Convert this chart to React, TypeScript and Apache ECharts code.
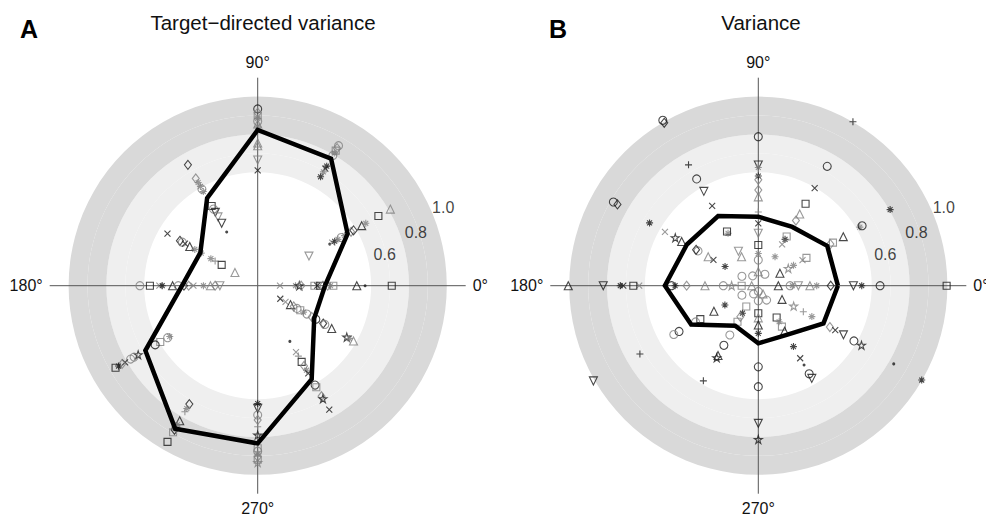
import React, { useEffect, useRef } from 'react';
import * as echarts from 'echarts';

// ---- data ----
const ANGLES = [0, 30, 60, 90, 120, 150, 180, 210, 240, 270, 300, 330];
const MEAN_A = [0.356, 0.549, 0.776, 0.824, 0.535, 0.35, 0.4, 0.686, 0.873, 0.834, 0.571, 0.345];
const MEAN_B = [0.421, 0.421, 0.359, 0.365, 0.425, 0.436, 0.494, 0.41, 0.245, 0.305, 0.3, 0.398];
const RING_TICKS = [1.0, 0.8, 0.6];
const ANGLE_TICK_LABELS = ['0°', '90°', '180°', '270°'];
const TITLE_A = 'Target\u2212directed variance';
const TITLE_B = 'Variance';
const PANEL_LETTERS = ['A', 'B'];

// [angle, radius, symbol, tone]  tone: k = black, g = gray
type Pt = [number, number, string, string];
const POINTS_A: Pt[] = [
  [90, 0.935, 'o', 'k'], [90, 0.915, 'd', 'g'], [90, 0.9, 's', 'g'], [90, 0.885, '*', 'g'], [90, 0.87, 'o', 'g'], [90, 0.855, '^', 'g'], [90, 0.84, '*', 'g'], [90, 0.755, '^', 'g'], [90, 0.74, '^', 'g'], [90, 0.665, 'v', 'g'], [90, 0.61, 'x', 'k'],
  [60, 0.855, 'o', 'g'], [60, 0.84, 'd', 'g'], [60, 0.825, 's', 'g'], [60, 0.81, '*', 'g'], [60, 0.795, 'o', 'g'], [60, 0.73, '*', 'k'], [60, 0.715, 'x', 'k'], [60, 0.695, '*', 'g'], [60, 0.665, '*', 'k'],
  [30, 0.313, 'v', 'g'], [30, 0.44, '.', 'k'], [30, 0.455, 'x', 'g'], [30, 0.47, '*', 'k'], [30, 0.49, '*', 'g'], [30, 0.51, 'o', 'g'], [30, 0.53, '*', 'g'], [30, 0.57, 'd', 'g'], [30, 0.585, 'd', 'k'], [30, 0.635, '^', 'k'], [30, 0.66, '*', 'g'], [30, 0.737, 's', 'k'], [30, 0.81, '^', 'g'],
  [0, 0.118, 'x', 'g'], [0, 0.2, '*', 'g'], [0, 0.22, 'p', 'k'], [0, 0.23, 'd', 'g'], [0, 0.3, 's', 'g'], [0, 0.315, 'x', 'k'], [0, 0.33, 's', 'k'], [0, 0.345, 'd', 'g'], [0, 0.37, 'd', 'g'], [0, 0.385, '*', 'g'], [0, 0.4, 's', 'g'], [0, 0.524, '^', 'k'], [0, 0.568, '.', 'k'], [0, 0.709, 's', 'k'],
  [330, 0.138, 'x', 'k'], [330, 0.17, 'x', 'g'], [330, 0.2, '^', 'k'], [330, 0.22, 'd', 'g'], [330, 0.24, 'o', 'g'], [330, 0.26, 's', 'g'], [330, 0.28, '*', 'g'], [330, 0.3, 'o', 'g'], [330, 0.33, 'd', 'g'], [330, 0.355, 'o', 'k'], [330, 0.4, 'd', 'k'], [330, 0.41, 'o', 'g'], [330, 0.452, '^', 'k'], [330, 0.544, 'p', 'k'], [330, 0.56, '*', 'g'], [330, 0.585, '^', 'g'],
  [300, 0.34, '.', 'k'], [300, 0.405, 'x', 'g'], [300, 0.43, '+', 'g'], [300, 0.465, 's', 'k'], [300, 0.49, 'd', 'g'], [300, 0.516, '*', 'g'], [300, 0.535, 'x', 'k'], [300, 0.607, 'o', 'k'], [300, 0.62, 's', 'g'], [300, 0.675, 'd', 'g'], [300, 0.69, 'p', 'k'], [300, 0.757, 'x', 'k'],
  [270, 0.623, '*', 'k'], [270, 0.649, 'v', 'k'], [270, 0.684, 'o', 'g'], [270, 0.71, 'd', 'g'], [270, 0.746, '+', 'g'], [270, 0.79, 'p', 'k'], [270, 0.86, 's', 'g'], [270, 0.875, 'o', 'g'], [270, 0.89, '*', 'g'], [270, 0.905, 'd', 'g'], [270, 0.92, 's', 'g'], [270, 0.935, 'p', 'g'],
  [240, 0.723, 'd', 'k'], [240, 0.75, '*', 'g'], [240, 0.77, '+', 'g'], [240, 0.825, '^', 'k'], [240, 0.85, '*', 'g'], [240, 0.865, 'o', 'g'], [240, 0.88, 'd', 'k'], [240, 0.895, 's', 'g'], [240, 0.954, 's', 'k'],
  [210, 0.537, '*', 'g'], [210, 0.55, 'o', 'g'], [210, 0.595, 's', 'g'], [210, 0.626, 'o', 'k'], [210, 0.73, 'p', 'k'], [210, 0.755, 'o', 'g'], [210, 0.776, 'o', 'g'], [210, 0.81, 'x', 'k'], [210, 0.828, 'd', 'g'], [210, 0.85, '*', 'k'], [210, 0.868, 's', 'k'],
  [180, 0.623, 'o', 'g'], [180, 0.57, 's', 'k'], [180, 0.52, 'x', 'g'], [180, 0.505, '*', 'k'], [180, 0.45, '^', 'k'], [180, 0.42, 'o', 'g'], [180, 0.39, 'd', 'k'], [180, 0.365, 'd', 'g'], [180, 0.34, 'x', 'g'], [180, 0.287, '*', 'g'], [180, 0.25, '^', 'g'], [180, 0.225, 'd', 'g'], [180, 0.2, 'v', 'g'],
  [150, 0.551, 'x', 'k'], [150, 0.475, 'd', 'k'], [150, 0.46, 'o', 'g'], [150, 0.444, 'x', 'k'], [150, 0.415, '^', 'k'], [150, 0.384, '*', 'g'], [150, 0.345, '*', 'g'], [150, 0.286, '*', 'g'], [150, 0.26, '+', 'g'], [150, 0.22, 's', 'k'], [150, 0.139, '^', 'g'],
  [120, 0.738, 'd', 'k'], [120, 0.655, 'd', 'g'], [120, 0.63, '*', 'g'], [120, 0.606, '*', 'g'], [120, 0.59, 'o', 'g'], [120, 0.575, '*', 'g'], [120, 0.487, 's', 'k'], [120, 0.468, 'o', 'g'], [120, 0.448, 'v', 'k'], [120, 0.42, 'v', 'g'], [120, 0.381, 'v', 'k'], [120, 0.328, '.', 'k'],
];
const POINTS_B: Pt[] = [
  [90, 0.788, 'o', 'k'], [90, 0.638, 'v', 'k'], [90, 0.625, '*', 'g'], [90, 0.58, '*', 'k'], [90, 0.56, 'd', 'g'], [90, 0.506, 'd', 'g'], [90, 0.47, '^', 'g'], [90, 0.39, '+', 'g'], [90, 0.33, 'x', 'k'], [90, 0.277, 'v', 'g'], [90, 0.215, 's', 'k'], [90, 0.17, '*', 'g'], [90, 0.136, 'o', 'g'], [90, 0.074, '^', 'g'],
  [270, 0.03, 'o', 'g'], [270, 0.08, 'o', 'g'], [270, 0.146, 's', 'k'], [270, 0.17, '^', 'g'], [270, 0.208, '^', 'k'], [270, 0.252, '*', 'k'], [270, 0.429, 'o', 'k'], [270, 0.534, 'o', 'k'], [270, 0.728, 'v', 'k'], [270, 0.813, 'p', 'k'],
  [0, 0.106, '^', 'k'], [0, 0.168, 'o', 'g'], [0, 0.18, '*', 'g'], [0, 0.212, 'v', 'g'], [0, 0.273, '^', 'g'], [0, 0.309, '*', 'g'], [0, 0.383, 'd', 'k'], [0, 0.503, 'v', 'k'], [0, 0.547, '*', 'k'], [0, 0.644, 'o', 'k'], [0, 0.996, 's', 'k'],
  [180, 0.035, '^', 'g'], [180, 0.088, 's', 'g'], [180, 0.141, 'p', 'g'], [180, 0.185, 'o', 'g'], [180, 0.282, '^', 'g'], [180, 0.379, 'd', 'g'], [180, 0.44, '*', 'k'], [180, 0.459, 'o', 'k'], [180, 0.63, 'x', 'g'], [180, 0.661, 's', 'k'], [180, 0.714, 'x', 'k'], [180, 0.73, '*', 'k'], [180, 0.82, 'v', 'k'], [180, 1.005, '^', 'k'],
  [30, 0.132, '^', 'k'], [30, 0.183, 'p', 'g'], [30, 0.215, '*', 'g'], [30, 0.27, 'x', 'g'], [30, 0.294, 's', 'g'], [30, 0.44, 'd', 'g'], [30, 0.456, 's', 'g'], [30, 0.519, '^', 'k'], [30, 0.62, '*', 'g'], [30, 0.634, 'o', 'k'], [30, 0.805, '*', 'k'],
  [60, 0.07, 'o', 'g'], [60, 0.177, '*', 'g'], [60, 0.252, 'x', 'g'], [60, 0.283, '*', 'k'], [60, 0.3, 's', 'g'], [60, 0.398, 'd', 'g'], [60, 0.438, '^', 'g'], [60, 0.5, 's', 'k'], [60, 0.596, 'x', 'k'], [60, 0.729, 'o', 'k'], [60, 1.001, '+', 'k'],
  [120, 0.06, 'o', 'g'], [120, 0.177, '^', 'g'], [120, 0.21, 'v', 'g'], [120, 0.32, '*', 'g'], [120, 0.331, 's', 'k'], [120, 0.488, 'x', 'k'], [120, 0.576, 'v', 'k'], [120, 0.652, 'o', 'k'], [120, 0.738, '+', 'k'], [120, 0.995, 'd', 'k'], [120, 1.01, 'o', 'k'],
  [150, 0.1, 'o', 'g'], [150, 0.203, '*', 'k'], [150, 0.274, 'x', 'k'], [150, 0.306, '^', 'g'], [150, 0.368, 'o', 'g'], [150, 0.38, 'd', 'k'], [150, 0.468, '^', 'k'], [150, 0.507, 'p', 'k'], [150, 0.57, 'x', 'g'], [150, 0.664, '*', 'k'], [150, 0.86, 'd', 'k'], [150, 0.885, 'o', 'k'],
  [210, 0.1, 'o', 'g'], [210, 0.204, '*', 'k'], [210, 0.271, '^', 'k'], [210, 0.354, 's', 'k'], [210, 0.383, 'o', 'g'], [210, 0.484, 'o', 'k'], [210, 0.516, 'o', 'g'], [210, 0.723, '+', 'k'], [210, 1.007, 'v', 'k'],
  [240, 0.05, 'o', 'g'], [240, 0.127, 's', 'g'], [240, 0.168, '*', 'k'], [240, 0.19, 'd', 'g'], [240, 0.22, 's', 'g'], [240, 0.301, 'o', 'g'], [240, 0.364, 'o', 'k'], [240, 0.426, '^', 'k'], [240, 0.44, 'p', 'k'], [240, 0.581, '+', 'k'],
  [300, 0.05, '^', 'g'], [300, 0.088, 'o', 'g'], [300, 0.194, 's', 'k'], [300, 0.22, '*', 'g'], [300, 0.25, 's', 'g'], [300, 0.278, '^', 'k'], [300, 0.372, '*', 'k'], [300, 0.443, 'x', 'k'], [300, 0.484, '.', 'k'], [300, 0.538, 'o', 'k'], [300, 0.566, 'v', 'k'],
  [330, 0.145, '^', 'k'], [330, 0.216, 'p', 'g'], [330, 0.275, '+', 'g'], [330, 0.327, '*', 'g'], [330, 0.437, 'd', 'g'], [330, 0.47, 'x', 'k'], [330, 0.52, 'v', 'k'], [330, 0.584, 'o', 'k'], [330, 0.63, 'p', 'k'], [330, 0.827, '.', 'k'], [330, 0.998, '*', 'k'],
];

// ---- layout / style ----
const FONT = '"Liberation Sans", Arial, Helvetica, sans-serif';
const CENTERS = [[257.7, 285.7], [758.3, 285.7]];
const POLAR_RADIUS = 208; // corresponds to radius value 1.1
const RING_LABEL_ANGLE = [22.8, 18.5, 13.6];
const RING_LABEL_OFFSET = [0.064, 0.082, 0.091];
const TONES: Record<string, string> = { k: '#1a1a1a', g: '#808080' };

const SYMBOLS: Record<string, { symbol: string; size: number | number[]; rotate?: number; filled?: boolean }> = {
  o: { symbol: 'circle', size: 8 },
  s: { symbol: 'rect', size: 7 },
  d: { symbol: 'diamond', size: [7, 9] },
  '^': { symbol: 'triangle', size: 8 },
  v: { symbol: 'triangle', size: 8, rotate: 180 },
  x: { symbol: 'path://M0,0L10,10M10,0L0,10', size: 6 },
  '+': { symbol: 'path://M5,0L5,10M0,5L10,5', size: 7 },
  '*': { symbol: 'path://M5,0L5,10M0,5L10,5M1.5,1.5L8.5,8.5M8.5,1.5L1.5,8.5', size: 7 },
  p: { symbol: 'path://M5,0L6.2,3.8L10,3.8L6.9,6.1L8.1,10L5,7.6L1.9,10L3.1,6.1L0,3.8L3.8,3.8Z', size: 8 },
  '.': { symbol: 'circle', size: 3, filled: true },
};

function scatterData(points: Pt[]) {
  return points.map(([a, r, s, t]) => {
    const sym = SYMBOLS[s];
    const c = TONES[t];
    return {
      value: [r, a],
      symbol: sym.symbol,
      symbolSize: sym.size,
      symbolRotate: sym.rotate || 0,
      itemStyle: sym.filled
        ? { color: c, borderWidth: 0 }
        : { color: 'rgba(0,0,0,0)', borderColor: c, borderWidth: 1.1 },
    };
  });
}

function meanLine(values: number[]) {
  const d = ANGLES.map((a, i) => [values[i], a]);
  d.push([values[0], ANGLES[0]]);
  return d;
}

function ringLabelData() {
  return RING_TICKS.map((v, i) => ({
    name: v.toFixed(1),
    value: [v + RING_LABEL_OFFSET[i], RING_LABEL_ANGLE[i]],
  }));
}

const angleLabelFor = (v: number) => {
  const idx = [0, 90, 180, 270].indexOf(v);
  return idx >= 0 ? ANGLE_TICK_LABELS[idx] : '';
};

export default function App() {
  const ref = useRef<HTMLDivElement>(null);
  useEffect(() => {
    if (!ref.current) return;
    const chart = echarts.init(ref.current, undefined, { renderer: 'svg' });
    const polar = CENTERS.map((c) => ({ center: c, radius: POLAR_RADIUS }));
    const radiusAxis = [0, 1].map((i) => ({
      polarIndex: i,
      type: 'value',
      min: 0,
      max: 1.1,
      interval: 0.1,
      axisLine: { show: false },
      axisTick: { show: false },
      axisLabel: { show: false },
      splitLine: { show: false },
      splitArea: {
        show: true,
        areaStyle: {
          color: ['#ffffff', '#ffffff', '#ffffff', '#ffffff', '#ffffff', '#ffffff', '#efefef', '#efefef', '#d9d9d9', '#d9d9d9', 'rgba(0,0,0,0)'],
        },
      },
      z: 0,
    }));
    const angleAxis = [0, 1].map((i) => ({
      polarIndex: i,
      type: 'value',
      min: 0,
      max: 360,
      interval: 90,
      startAngle: 0,
      clockwise: false,
      axisLine: { show: false },
      axisTick: { show: false },
      axisLabel: {
        show: true,
        margin: 7,
        fontSize: 16,
        color: '#111',
        fontFamily: FONT,
        formatter: (v: number) => angleLabelFor(v),
      },
      splitLine: { show: true, lineStyle: { color: '#555', width: 1 } },
      z: 1,
    }));
    const series: any[] = [];
    [POINTS_A, POINTS_B].forEach((pts, i) => {
      series.push({
        type: 'scatter',
        coordinateSystem: 'polar',
        polarIndex: i,
        data: scatterData(pts),
        z: 3,
        silent: true,
      });
      series.push({
        type: 'line',
        coordinateSystem: 'polar',
        polarIndex: i,
        data: meanLine(i === 0 ? MEAN_A : MEAN_B),
        symbol: 'none',
        lineStyle: { color: '#000', width: 4.5, join: 'miter' },
        z: 4,
        silent: true,
      });
      series.push({
        type: 'scatter',
        coordinateSystem: 'polar',
        polarIndex: i,
        data: ringLabelData(),
        symbol: 'circle',
        symbolSize: 1,
        itemStyle: { color: 'rgba(0,0,0,0)' },
        label: {
          show: true,
          position: 'inside',
          formatter: (p: any) => p.name,
          fontSize: 16,
          color: '#111',
          fontFamily: FONT,
        },
        z: 5,
        silent: true,
      });
    });
    chart.setOption({
      animation: false,
      backgroundColor: '#ffffff',
      textStyle: { fontFamily: FONT },
      polar,
      radiusAxis,
      angleAxis,
      series,
      graphic: [
        { type: 'text', left: 20, top: 16, style: { text: PANEL_LETTERS[0], font: `bold 25px ${FONT}`, fill: '#000' } },
        { type: 'text', left: 549, top: 16, style: { text: PANEL_LETTERS[1], font: `bold 25px ${FONT}`, fill: '#000' } },
        { type: 'text', x: 263, y: 22.5, style: { text: TITLE_A, font: `20.5px ${FONT}`, fill: '#111', textAlign: 'center', textVerticalAlign: 'middle' } },
        { type: 'text', x: 761, y: 22.5, style: { text: TITLE_B, font: `20.5px ${FONT}`, fill: '#111', textAlign: 'center', textVerticalAlign: 'middle' } },
      ],
    });
    return () => chart.dispose();
  }, []);
  return (
    <div
      ref={ref}
      style={{ position: 'absolute', left: 0, top: 0, width: 986, height: 520 }}
    />
  );
}
